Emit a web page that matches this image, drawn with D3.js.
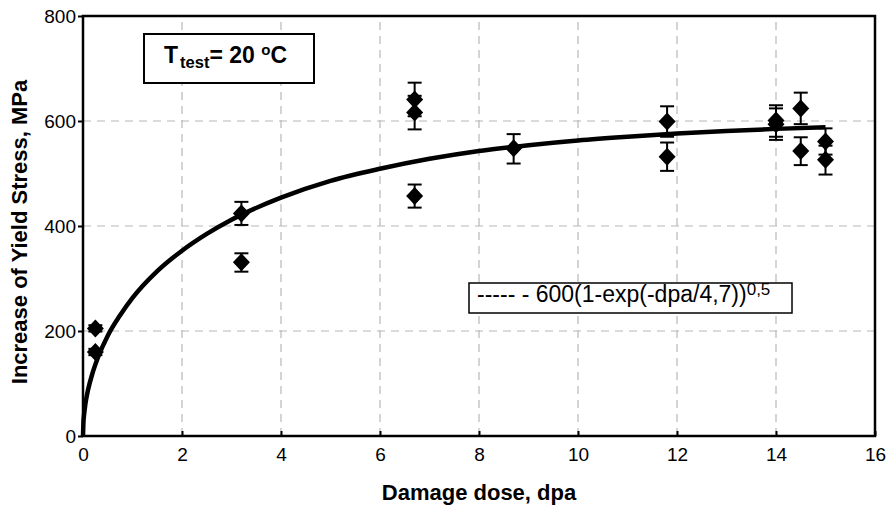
<!DOCTYPE html>
<html><head><meta charset="utf-8">
<script src="https://cdn.jsdelivr.net/npm/d3@7"></script>
<style>
body{margin:0;background:#fff;}
svg{display:block;font-family:"Liberation Sans",Arial,sans-serif;}
</style></head>
<body><svg id="c" width="889" height="506"></svg>
<script>
// ---- data ----
const xTicks = [0, 2, 4, 6, 8, 10, 12, 14, 16];
const yTicks = [0, 200, 400, 600, 800];
const dose   = [0.25, 0.25, 3.2, 3.2, 6.7, 6.7, 6.7, 8.7, 11.8, 11.8, 14, 14, 14.5, 14.5, 15, 15];
const stress = [205, 160, 424, 331, 641, 616, 457, 548, 599, 532, 601, 594, 624, 543, 561, 526];
const errHi  = [211, 166, 446, 348, 673, 648, 479, 575, 628, 559, 630, 624, 654, 569, 586, 553];
const errLo  = [199, 154, 402, 313, 609, 584, 435, 519, 570, 505, 570, 564, 594, 516, 536, 498];
const fitDose   = [0, 0.01, 0.02, 0.05, 0.1, 0.2, 0.3, 0.5, 0.75, 1, 1.5, 2, 2.5, 3, 4, 5, 6, 7, 8, 9, 10, 11, 12, 13, 14, 15];
const fitStress = [0, 28, 39, 62, 87, 122, 149, 191, 230, 263, 314, 353, 385, 412, 454, 486, 509, 528, 543, 554, 563, 570, 576, 581, 585, 588];

const svg = d3.select("#c");
const x = d3.scaleLinear().domain([0, 16]).range([83, 875]);
const y = d3.scaleLinear().domain([0, 800]).range([436, 16]);

// grid
const grid = svg.append("g").attr("stroke", "#b8b8b8").attr("stroke-width", 1.2).attr("stroke-dasharray", "8,6");
grid.selectAll("line.v").data(xTicks.filter(d => d > 0 && d < 16)).join("line")
  .attr("x1", d => x(d)).attr("x2", d => x(d)).attr("y1", y(0)).attr("y2", y(800));
grid.selectAll("line.h").data(yTicks.filter(d => d > 0 && d < 800)).join("line")
  .attr("y1", d => y(d)).attr("y2", d => y(d)).attr("x1", x(0)).attr("x2", x(16));

// axes
const xAxis = svg.append("g").attr("transform", `translate(0,${y(0)})`)
  .call(d3.axisBottom(x).tickValues(xTicks).tickSize(-5).tickPadding(12).tickSizeOuter(0));
const yAxis = svg.append("g").attr("transform", `translate(${x(0)},0)`)
  .call(d3.axisLeft(y).tickValues(yTicks).tickSize(5).tickPadding(2).tickSizeOuter(0));
[xAxis, yAxis].forEach(a => {
  a.select(".domain").remove();
  a.selectAll("line").attr("stroke", "#000").attr("stroke-width", 2);
  a.selectAll("text").attr("font-size", 19).attr("fill", "#000").attr("font-family", "Liberation Sans, Arial, sans-serif");
});

// frame
svg.append("rect").attr("x", x(0)).attr("y", y(800)).attr("width", x(16) - x(0)).attr("height", y(0) - y(800))
  .attr("fill", "none").attr("stroke", "#000").attr("stroke-width", 2.5);

// fit curve
svg.append("path").datum(fitDose.map((d, i) => [d, fitStress[i]]))
  .attr("fill", "none").attr("stroke", "#000").attr("stroke-width", 4.5)
  .attr("d", d3.line().x(d => x(d[0])).y(d => y(d[1])).curve(d3.curveMonotoneX));

// error bars
const pts = dose.map((d, i) => ({d, s: stress[i], hi: errHi[i], lo: errLo[i]}));
const eb = svg.append("g").attr("stroke", "#000").attr("stroke-width", 2);
eb.selectAll("line.s").data(pts).join("line")
  .attr("x1", p => x(p.d)).attr("x2", p => x(p.d)).attr("y1", p => y(p.hi)).attr("y2", p => y(p.lo));
eb.selectAll("line.t").data(pts).join("line")
  .attr("x1", p => x(p.d) - 7).attr("x2", p => x(p.d) + 7).attr("y1", p => y(p.hi)).attr("y2", p => y(p.hi));
eb.selectAll("line.b").data(pts).join("line")
  .attr("x1", p => x(p.d) - 7).attr("x2", p => x(p.d) + 7).attr("y1", p => y(p.lo)).attr("y2", p => y(p.lo));

// diamonds
svg.append("g").selectAll("path").data(pts).join("path")
  .attr("transform", p => `translate(${x(p.d)},${y(p.s)})`)
  .attr("d", "M0,-9L8.5,0L0,9L-8.5,0Z").attr("fill", "#000");

// axis titles
svg.append("text").attr("x", (x(0) + x(16)) / 2).attr("y", 500).attr("text-anchor", "middle")
  .attr("font-size", 22).attr("font-weight", "bold").text("Damage dose, dpa");
svg.append("text").attr("transform", `translate(27,232) rotate(-90)`).attr("text-anchor", "middle")
  .attr("font-size", 22).attr("font-weight", "bold").text("Increase of Yield Stress, MPa");

// temperature box
svg.append("rect").attr("x", 144).attr("y", 34).attr("width", 170).attr("height", 49)
  .attr("fill", "#fff").attr("stroke", "#000").attr("stroke-width", 2);
const tt = svg.append("text").attr("x", 164).attr("y", 63).attr("font-size", 23).attr("font-weight", "bold");
tt.append("tspan").text("T");
tt.append("tspan").attr("font-size", 16.5).attr("dx", 2).attr("dy", 5).text("test");
tt.append("tspan").attr("dy", -5).text("= 20 ");
tt.append("tspan").attr("font-size", 15).attr("dy", -8).text("o");
tt.append("tspan").attr("dy", 8).text("C");

// legend
svg.append("rect").attr("x", 469).attr("y", 283).attr("width", 323).attr("height", 30)
  .attr("fill", "#fff").attr("stroke", "#000").attr("stroke-width", 1.5);
const lt = svg.append("text").attr("x", 477).attr("y", 302).attr("font-size", 23);
lt.append("tspan").text("----- - 600(1-exp(-dpa/4,7))");
lt.append("tspan").attr("font-size", 17).attr("dy", -7).text("0,5");
</script></body></html>
